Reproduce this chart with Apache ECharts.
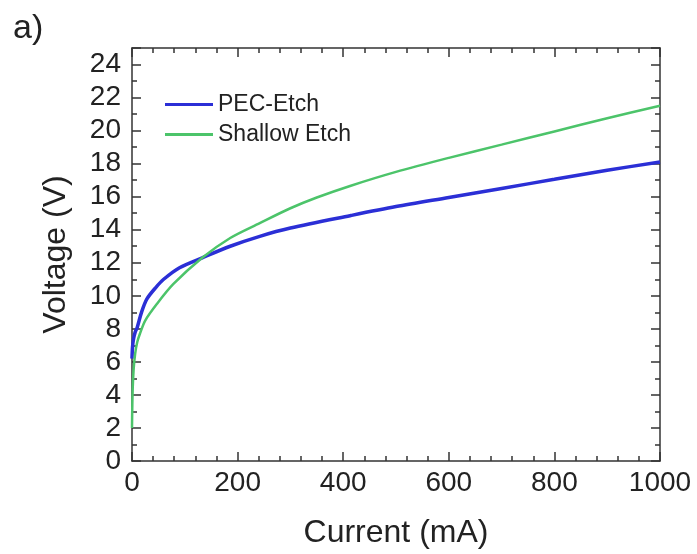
<!DOCTYPE html>
<html>
<head>
<meta charset="UTF-8">
<title>Voltage vs Current</title>
<script src="https://cdn.jsdelivr.net/npm/echarts@6.0.0/dist/echarts.min.js"></script>
<style>
  html, body { margin: 0; padding: 0; background: #fff; }
  #chart { width: 697px; height: 554px; }
</style>
</head>
<body>
<div id="chart"></div>
<script>
// data
const seriesNames = ['PEC-Etch', 'Shallow Etch'];
const pecCurrent = [0, 1, 3, 6, 10, 18, 28, 45, 60, 90, 133, 186, 242, 300, 413, 500, 600, 700, 800, 900, 1000];
const pecVoltage = [6.2, 6.9, 7.4, 7.8, 8.1, 9.0, 9.8, 10.5, 11.0, 11.7, 12.3, 13.0, 13.6, 14.1, 14.85, 15.4, 15.95, 16.5, 17.05, 17.6, 18.1];
const shallowCurrent = [0, 1, 3, 6, 10, 15, 25, 47, 78, 133, 186, 242, 300, 350, 413, 500, 600, 700, 800, 900, 1000];
const shallowVoltage = [2.0, 4.0, 5.5, 6.5, 7.2, 7.7, 8.5, 9.5, 10.7, 12.3, 13.5, 14.4, 15.3, 15.95, 16.65, 17.5, 18.35, 19.15, 19.95, 20.75, 21.5];

function pairs(xs, ys) {
  return xs.map((x, i) => [x, ys[i]]);
}

const chart = echarts.init(document.getElementById('chart'));
const font = 'Liberation Sans, Arial, sans-serif';
const axisColor = '#333';
const textColor = '#222';

const tickStyle = { show: true, inside: true, length: 9, lineStyle: { color: axisColor, width: 1.5 } };
const minorStyle = { show: true, length: 5, lineStyle: { color: axisColor, width: 1.5 } };

chart.setOption({
  backgroundColor: '#fff',
  animation: false,
  graphic: [{
    type: 'text', left: 13, top: 12,
    style: { text: 'a)', font: '34px ' + font, fill: textColor }
  }],
  grid: { left: 132, right: 37, top: 48, bottom: 86 },
  legend: {
    left: 160, top: 88, orient: 'vertical', itemGap: 7,
    itemWidth: 48, itemHeight: 3,
    textStyle: { fontFamily: font, fontSize: 23, color: textColor },
    data: [
      { name: seriesNames[0], icon: 'rect' },
      { name: seriesNames[1], icon: 'rect' }
    ]
  },
  xAxis: [{
    type: 'value', min: 0, max: 1000, interval: 200,
    name: 'Current (mA)', nameLocation: 'middle', nameGap: 56,
    nameTextStyle: { fontFamily: font, fontSize: 32, color: textColor },
    axisLine: { onZero: false, lineStyle: { color: axisColor, width: 1.5 } },
    axisTick: tickStyle, minorTick: Object.assign({ splitNumber: 5 }, minorStyle),
    axisLabel: { fontFamily: font, fontSize: 28, color: textColor, margin: 8, formatter: v => String(v) },
    splitLine: { show: false }
  }, {
    type: 'value', position: 'top', min: 0, max: 1000, interval: 200,
    axisLine: { show: true, onZero: false, lineStyle: { color: axisColor, width: 1.5 } },
    axisTick: tickStyle, minorTick: Object.assign({ splitNumber: 5 }, minorStyle),
    axisLabel: { show: false }, splitLine: { show: false }
  }],
  yAxis: [{
    type: 'value', min: 0, max: 25, interval: 2,
    name: 'Voltage (V)', nameLocation: 'middle', nameGap: 60,
    nameTextStyle: { fontFamily: font, fontSize: 32, color: textColor },
    axisLine: { show: true, onZero: false, lineStyle: { color: axisColor, width: 1.5 } },
    axisTick: tickStyle, minorTick: Object.assign({ splitNumber: 2 }, minorStyle),
    axisLabel: { fontFamily: font, fontSize: 28, color: textColor, margin: 11, showMaxLabel: false },
    splitLine: { show: false }
  }, {
    type: 'value', position: 'right', min: 0, max: 25, interval: 2,
    axisLine: { show: true, onZero: false, lineStyle: { color: axisColor, width: 1.5 } },
    axisTick: tickStyle, minorTick: Object.assign({ splitNumber: 2 }, minorStyle),
    axisLabel: { show: false }, splitLine: { show: false }
  }],
  series: [{
    name: seriesNames[0], type: 'line', smooth: 0.3, showSymbol: false,
    xAxisIndex: 0, yAxisIndex: 0,
    color: '#2b2fd6',
    lineStyle: { width: 3.5, color: '#2b2fd6' },
    data: pairs(pecCurrent, pecVoltage)
  }, {
    name: seriesNames[1], type: 'line', smooth: 0.3, showSymbol: false,
    xAxisIndex: 0, yAxisIndex: 0,
    color: '#4cc46a',
    lineStyle: { width: 2.5, color: '#4cc46a' },
    data: pairs(shallowCurrent, shallowVoltage)
  }]
});
</script>
</body>
</html>
